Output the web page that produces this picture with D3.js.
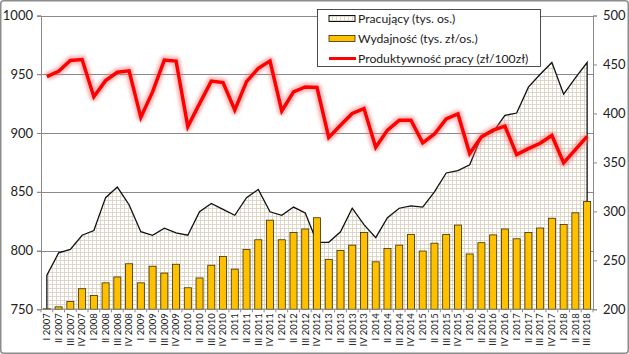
<html>
<head>
    <script src="https://d3js.org/d3.v7.min.js"></script>
    <style>
        body { margin: 0; background: #fff; }
        text { font-family: Lato, "Liberation Sans", sans-serif; fill: #222; }
        .tick-label { font-size: 13px; }
        .x-label { font-size: 9.5px; }
        .legend text { font-size: 12.2px; }
        .grid line { stroke: #8a8a8a; stroke-width: 1; }
    </style>
</head>
<body>
    <svg id="chart"></svg>
    <script>
        const categories = [
            "I 2007", "II 2007", "III 2007", "IV 2007",
            "I 2008", "II 2008", "III 2008", "IV 2008",
            "I 2009", "II 2009", "III 2009", "IV 2009",
            "I 2010", "II 2010", "III 2010", "IV 2010",
            "I 2011", "II 2011", "III 2011", "IV 2011",
            "I 2012", "II 2012", "III 2012", "IV 2012",
            "I 2013", "II 2013", "III 2013", "IV 2013",
            "I 2014", "II 2014", "III 2014", "IV 2014",
            "I 2015", "II 2015", "III 2015", "IV 2015",
            "I 2016", "II 2016", "III 2016", "IV 2016",
            "I 2017", "II 2017", "III 2017", "IV 2017",
            "I 2018", "II 2018", "III 2018"
        ];

        // Pracujący (tys. os.) - left axis
        const pracujacy = [
            779, 798, 801, 813, 817, 845, 854, 839, 816, 813, 819, 815,
            813, 833, 840, 835, 830, 845, 852, 833, 830, 837, 832, 807,
            807, 816, 836, 822, 811, 828, 836, 838, 837, 850, 866, 868,
            873, 897, 901, 915, 917, 939, 950, 960, 933, 947, 960
        ];

        // Wydajność (tys. zł/os.) - right axis
        const wydajnosc = [
            200.5, 202.5, 208, 221, 214, 227, 233, 246.5, 227, 244, 237, 246,
            222, 232, 245, 254, 241, 261, 271, 291, 271, 278.5, 282, 293.5,
            251, 260, 265.5, 278.5, 248.5, 262, 265.5, 276.5, 259.5, 267.5, 276.5, 286,
            256.5, 268, 276, 282, 272, 278.5, 283, 293, 286.5, 298.5, 310
        ];

        // Produktywność pracy (zł/100zł) - right axis
        const produktywnosc = [
            437.5, 443, 454, 455, 417, 433.5, 442, 443.5, 396, 422, 454.5, 453.5,
            386.5, 410, 433, 431.5, 403.5, 432.5, 446, 453.5, 402.5, 422, 427, 426.5,
            375.5, 388, 400, 405, 365.5, 383, 393, 393, 370, 379, 394.5, 399.5,
            359, 376, 383, 387, 358, 364, 369.5, 377.5, 349.5, 363, 376.5
        ];

        const leftTicks = [750, 800, 850, 900, 950, 1000];
        const rightTicks = [200, 250, 300, 350, 400, 450, 500];

        const W = 629, H = 354;
        const plot = { left: 41, right: 593, top: 15.5, bottom: 309.3 };

        const svg = d3.select("#chart").attr("width", W).attr("height", H);

        const defs = svg.append("defs");
        const pat = defs.append("pattern")
            .attr("id", "grid")
            .attr("patternUnits", "userSpaceOnUse")
            .attr("width", 4).attr("height", 4);
        pat.append("rect").attr("width", 4).attr("height", 4).attr("fill", "#fff");
        pat.append("path")
            .attr("d", "M0,0.5H4M0.5,0V4")
            .attr("stroke", "#d3c9b4")
            .attr("stroke-width", 0.7);

        defs.append("filter").attr("id", "glow")
            .attr("x", "-5%").attr("y", "-20%").attr("width", "110%").attr("height", "140%")
            .append("feGaussianBlur").attr("stdDeviation", 1.8);

        // chart frame
        svg.append("rect")
            .attr("x", 0.75).attr("y", 0.75)
            .attr("width", W - 1.5).attr("height", H - 1.5)
            .attr("rx", 3)
            .attr("fill", "#fff")
            .attr("stroke", "#8c8c8c")
            .attr("stroke-width", 1.5);

        const x = d3.scaleBand()
            .domain(categories)
            .range([plot.left, plot.right])
            .paddingInner(0.4)
            .paddingOuter(0.2);
        const xc = d => x(d) + x.bandwidth() / 2;

        const yL = d3.scaleLinear().domain([750, 1000]).range([plot.bottom, plot.top]);
        const yR = d3.scaleLinear().domain([200, 500]).range([plot.bottom, plot.top]);

        // gridlines
        svg.append("g")
            .attr("class", "grid")
            .selectAll("line")
            .data(leftTicks.slice(1))
            .join("line")
            .attr("x1", plot.left - 4)
            .attr("x2", plot.right)
            .attr("y1", d => Math.round(yL(d)) + 0.5)
            .attr("y2", d => Math.round(yL(d)) + 0.5);

        // area Pracujący
        const areaPts = categories.map((c, i) => [xc(c), yL(pracujacy[i])]);
        const area = d3.area()
            .x(d => d[0])
            .y0(yL(750))
            .y1(d => d[1]);
        svg.append("path")
            .datum(areaPts)
            .attr("d", area)
            .attr("fill", "url(#grid)");

        const outline = [[areaPts[0][0], yL(750)], ...areaPts, [areaPts[areaPts.length - 1][0], yL(750)]];
        svg.append("path")
            .datum(outline)
            .attr("d", d3.line())
            .attr("fill", "none")
            .attr("stroke", "#111")
            .attr("stroke-width", 1.3);

        // bars Wydajność
        svg.append("g")
            .selectAll("rect")
            .data(wydajnosc)
            .join("rect")
            .attr("x", (d, i) => x(categories[i]))
            .attr("y", d => yR(d))
            .attr("width", x.bandwidth())
            .attr("height", d => yR(200) - yR(d))
            .attr("fill", "#ffc000")
            .attr("stroke", "#3b2e00")
            .attr("stroke-width", 0.8);

        // line Produktywność
        const linePts = categories.map((c, i) => [xc(c), yR(produktywnosc[i])]);
        svg.append("path")
            .datum(linePts)
            .attr("d", d3.line())
            .attr("fill", "none")
            .attr("stroke", "#ff6a6a")
            .attr("stroke-opacity", 0.45)
            .attr("stroke-width", 9)
            .attr("stroke-linejoin", "round")
            .attr("filter", "url(#glow)");
        svg.append("path")
            .datum(linePts)
            .attr("d", d3.line())
            .attr("fill", "none")
            .attr("stroke", "#ff0000")
            .attr("stroke-width", 3.5)
            .attr("stroke-linejoin", "miter");

        // left axis
        const axL = svg.append("g")
            .attr("transform", `translate(${plot.left},0)`)
            .call(d3.axisLeft(yL).tickValues(leftTicks).tickFormat(d3.format("d")).tickSize(4).tickPadding(4));
        axL.select(".domain").attr("stroke", "#8a8a8a");
        axL.selectAll(".tick line").attr("stroke", "#8a8a8a");
        axL.selectAll("text").attr("class", "tick-label");

        // right axis
        const axR = svg.append("g")
            .attr("transform", `translate(${plot.right},0)`)
            .call(d3.axisRight(yR).tickValues(rightTicks).tickSize(4).tickPadding(6));
        axR.select(".domain").attr("stroke", "#8a8a8a");
        axR.selectAll(".tick line").attr("stroke", "#8a8a8a");
        axR.selectAll("text").attr("class", "tick-label");

        // bottom axis
        svg.append("line")
            .attr("x1", plot.left).attr("x2", plot.right)
            .attr("y1", plot.bottom).attr("y2", plot.bottom)
            .attr("stroke", "#8a8a8a");
        svg.append("g")
            .selectAll("line")
            .data(d3.range(categories.length + 1))
            .join("line")
            .attr("x1", i => plot.left + i * x.step())
            .attr("x2", i => plot.left + i * x.step())
            .attr("y1", plot.bottom)
            .attr("y2", plot.bottom + 3)
            .attr("stroke", "#8a8a8a");

        const axB = svg.append("g")
            .attr("transform", `translate(0,${plot.bottom})`)
            .call(d3.axisBottom(x).tickSize(0));
        axB.select(".domain").remove();
        axB.selectAll("text")
            .attr("class", "x-label")
            .attr("transform", "rotate(-90)")
            .attr("x", -4)
            .attr("y", 0)
            .attr("dy", "0.35em")
            .style("text-anchor", "end");

        // legend
        const legend = svg.append("g").attr("class", "legend");
        legend.append("rect")
            .attr("x", 317.5).attr("y", 9.5)
            .attr("width", 223).attr("height", 57)
            .attr("fill", "#fff")
            .attr("stroke", "#222")
            .attr("stroke-width", 0.8);

        const legendItems = ["Pracujący (tys. os.)", "Wydajność (tys. zł/os.)", "Produktywność pracy (zł/100zł)"];
        const rowY = [18.5, 38.5, 58.5];

        legend.append("rect")
            .attr("x", 329).attr("y", rowY[0] - 3)
            .attr("width", 26).attr("height", 6)
            .attr("fill", "url(#grid)")
            .attr("stroke", "#111").attr("stroke-width", 1);
        legend.append("rect")
            .attr("x", 329).attr("y", rowY[1] - 3)
            .attr("width", 26).attr("height", 6)
            .attr("fill", "#ffc000")
            .attr("stroke", "#3b2e00").attr("stroke-width", 0.8);
        legend.append("line")
            .attr("x1", 329).attr("x2", 356)
            .attr("y1", rowY[2]).attr("y2", rowY[2])
            .attr("stroke", "#ff0000").attr("stroke-width", 3);

        legend.selectAll("text.item")
            .data(legendItems)
            .join("text")
            .attr("class", "item")
            .attr("x", 358)
            .attr("y", (d, i) => rowY[i])
            .attr("dy", "0.35em")
            .text(d => d);
    </script>
</body>
</html>
